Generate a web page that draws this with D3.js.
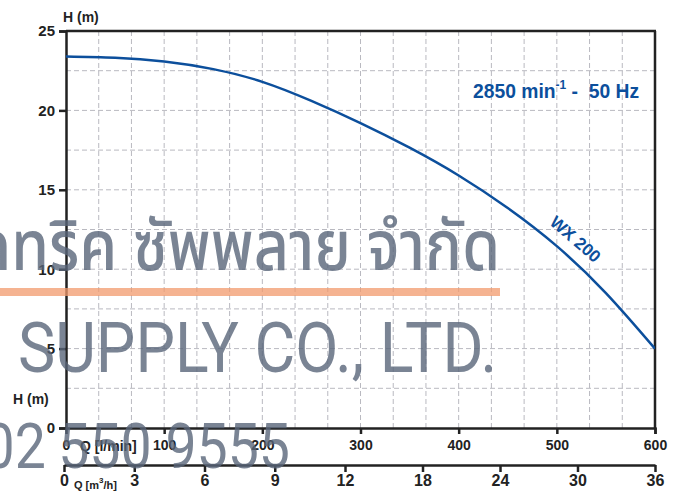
<!DOCTYPE html>
<html><head><meta charset="utf-8">
<script src="https://cdn.jsdelivr.net/npm/d3@7"></script>
<style>html,body{margin:0;padding:0;background:#fff;}svg{display:block;}text{white-space:pre;}</style>
</head><body>
<svg id="c" width="683" height="493"></svg>
<script>
// ---- data ----
const flowLmin = [0, 50, 100, 150, 200, 250, 300, 350, 400, 450, 500, 550, 600];
const headM    = [23.4, 23.32, 23.08, 22.6, 21.8, 20.6, 19.2, 17.65, 15.9, 13.85, 11.45, 8.5, 5.0];
const yTicks = [0, 5, 10, 15, 20, 25];
const lminTicks = [0, 100, 200, 300, 400, 500, 600];
const m3hTicks = [0, 3, 6, 9, 12, 18, 24, 30, 36];
const seriesName = "WX 200";
const speedLabel = "2850 min";

// ---- layout ----
const svg = d3.select("#c");
const L = 66, R = 655, T = 31, B = 428;
const x = d3.scaleLinear().domain([0, 600]).range([L, R]);
const y = d3.scaleLinear().domain([0, 25]).range([B, T]);
const xm = d3.scaleLinear().domain([0, 12, 36]).range([L - 2, L + (R - L) * 0.4737, R]);
const blue = "#0c4f9c", ink = "#222";
const font = "'Liberation Sans', Arial, sans-serif";

// grid
const g = svg.append("g");
const hGrid = d3.range(2.5, 25, 2.5);
g.selectAll("line.h").data(hGrid).join("line")
  .attr("x1", L).attr("x2", R).attr("y1", d => y(d)).attr("y2", d => y(d))
  .attr("stroke", "#b9b9c0").attr("stroke-width", 1).attr("stroke-dasharray", "5,3");
const vGrid = d3.range(1, 18).map(i => i * 600 / 18);
g.selectAll("line.v").data(vGrid).join("line")
  .attr("x1", d => x(d)).attr("x2", d => x(d)).attr("y1", T).attr("y2", B)
  .attr("stroke", "#b9b9c0").attr("stroke-width", 1).attr("stroke-dasharray", "5,3");

// frame
svg.append("line").attr("x1", L).attr("x2", R + 1).attr("y1", T).attr("y2", T).attr("stroke", ink).attr("stroke-width", 2.5);
svg.append("line").attr("x1", R).attr("x2", R).attr("y1", T).attr("y2", B).attr("stroke", ink).attr("stroke-width", 2.5);

// left axis
const yAxis = d3.axisLeft(y).tickValues(yTicks).tickSize(7).tickPadding(4);
const ya = svg.append("g").attr("transform", `translate(${L},0)`).call(yAxis);
ya.select(".domain").attr("stroke", ink).attr("stroke-width", 2.5);
ya.selectAll(".tick line").attr("stroke", ink).attr("stroke-width", 2.5);
ya.selectAll("text").attr("font-family", font).attr("font-weight", "bold").attr("font-size", 15).attr("fill", ink);

// bottom axis l/min
const xAxis = d3.axisBottom(x).tickValues(lminTicks).tickSize(6).tickPadding(6);
const xa = svg.append("g").attr("transform", `translate(0,${B})`).call(xAxis);
xa.select(".domain").attr("stroke", ink).attr("stroke-width", 2.5);
xa.selectAll(".tick line").attr("stroke", ink).attr("stroke-width", 2.5);
xa.selectAll("text").attr("font-family", font).attr("font-weight", "bold").attr("font-size", 14).attr("fill", ink);
xa.selectAll(".tick").filter(d => d === 0).select("line").remove();

// second axis m3/h
const Y2 = 465;
const xAxis2 = d3.axisBottom(xm).tickValues(m3hTicks).tickSize(7).tickPadding(3).tickSizeOuter(0);
const xb = svg.append("g").attr("transform", `translate(0,${Y2})`).call(xAxis2);
xb.select(".domain").attr("stroke", ink).attr("stroke-width", 2.5);
xb.selectAll(".tick line").attr("stroke", ink).attr("stroke-width", 2.5);
xb.selectAll("text").attr("font-family", font).attr("font-weight", "bold").attr("font-size", 16).attr("fill", ink);

// axis titles
svg.append("text").attr("x", 63).attr("y", 22).text("H (m)")
  .attr("font-family", font).attr("font-weight", "bold").attr("font-size", 14).attr("fill", ink);
svg.append("text").attr("x", 13).attr("y", 404).text("H (m)")
  .attr("font-family", font).attr("font-weight", "bold").attr("font-size", 14).attr("fill", ink);
svg.append("text").attr("x", 80).attr("y", 451).text("Q [l/min]")
  .attr("font-family", font).attr("font-weight", "bold").attr("font-size", 14).attr("fill", ink);
const q2 = svg.append("text").attr("x", 74).attr("y", 489)
  .attr("font-family", font).attr("font-weight", "bold").attr("font-size", 11).attr("fill", ink);
q2.append("tspan").text("Q [m");
q2.append("tspan").text("3").attr("dy", -6).attr("font-size", 8);
q2.append("tspan").text("/h]").attr("dy", 6);

// curve
svg.append("clipPath").attr("id", "clip").append("rect").attr("x", L).attr("y", T).attr("width", R - L).attr("height", B - T);
const line = d3.line().x((d, i) => x(flowLmin[i])).y(d => y(d)).curve(d3.curveNatural);
svg.append("path").datum(headM).attr("d", line).attr("clip-path", "url(#clip)")
  .attr("fill", "none").attr("stroke", blue).attr("stroke-width", 2.5);

// labels
const sp = svg.append("text").attr("x", 473).attr("y", 98)
  .attr("font-family", font).attr("font-weight", "bold").attr("font-size", 19.3).attr("fill", blue);
sp.append("tspan").text(speedLabel);
sp.append("tspan").text("-1").attr("dy", -9).attr("font-size", 12);
sp.append("tspan").text(" -  50 Hz").attr("dy", 9);

svg.append("text").attr("transform", `translate(${x(519)},${y(11.9)}) rotate(41)`)
  .attr("text-anchor", "middle").attr("dy", "0.35em").text(seriesName)
  .attr("font-family", font).attr("font-weight", "bold").attr("font-size", 17).attr("fill", blue);

// watermark
const wmc = "#59667a";
const wm = svg.append("g").attr("opacity", 0.8);
wm.append("text").attr("transform", "translate(500,270) scale(1,1.15)").attr("text-anchor", "end")
  .text("เล็คทริค ซัพพลาย จำกัด")
  .attr("font-family", "'Noto Sans Thai','Noto Sans','DejaVu Sans',sans-serif").attr("font-weight", 500)
  .attr("font-size", 61).attr("fill", wmc);
svg.append("rect").attr("x", 0).attr("y", 288).attr("width", 500).attr("height", 8).attr("fill", "#f29a6c").attr("opacity", 0.75);
wm.append("text").attr("x", 18).attr("y", 372).text("SUPPLY CO., LTD.")
  .attr("textLength", 479).attr("lengthAdjust", "spacingAndGlyphs")
  .attr("font-family", "Roboto, sans-serif").attr("font-size", 70).attr("fill", wmc);
const ph = wm.append("text").attr("transform", "translate(290,468) scale(0.88,1)").attr("text-anchor", "end")
  .attr("font-family", "Roboto, sans-serif").attr("font-size", 63).attr("fill", wmc);
ph.append("tspan").text("02");
ph.append("tspan").text("550 9555").attr("dx", 14);
</script>
</body></html>
